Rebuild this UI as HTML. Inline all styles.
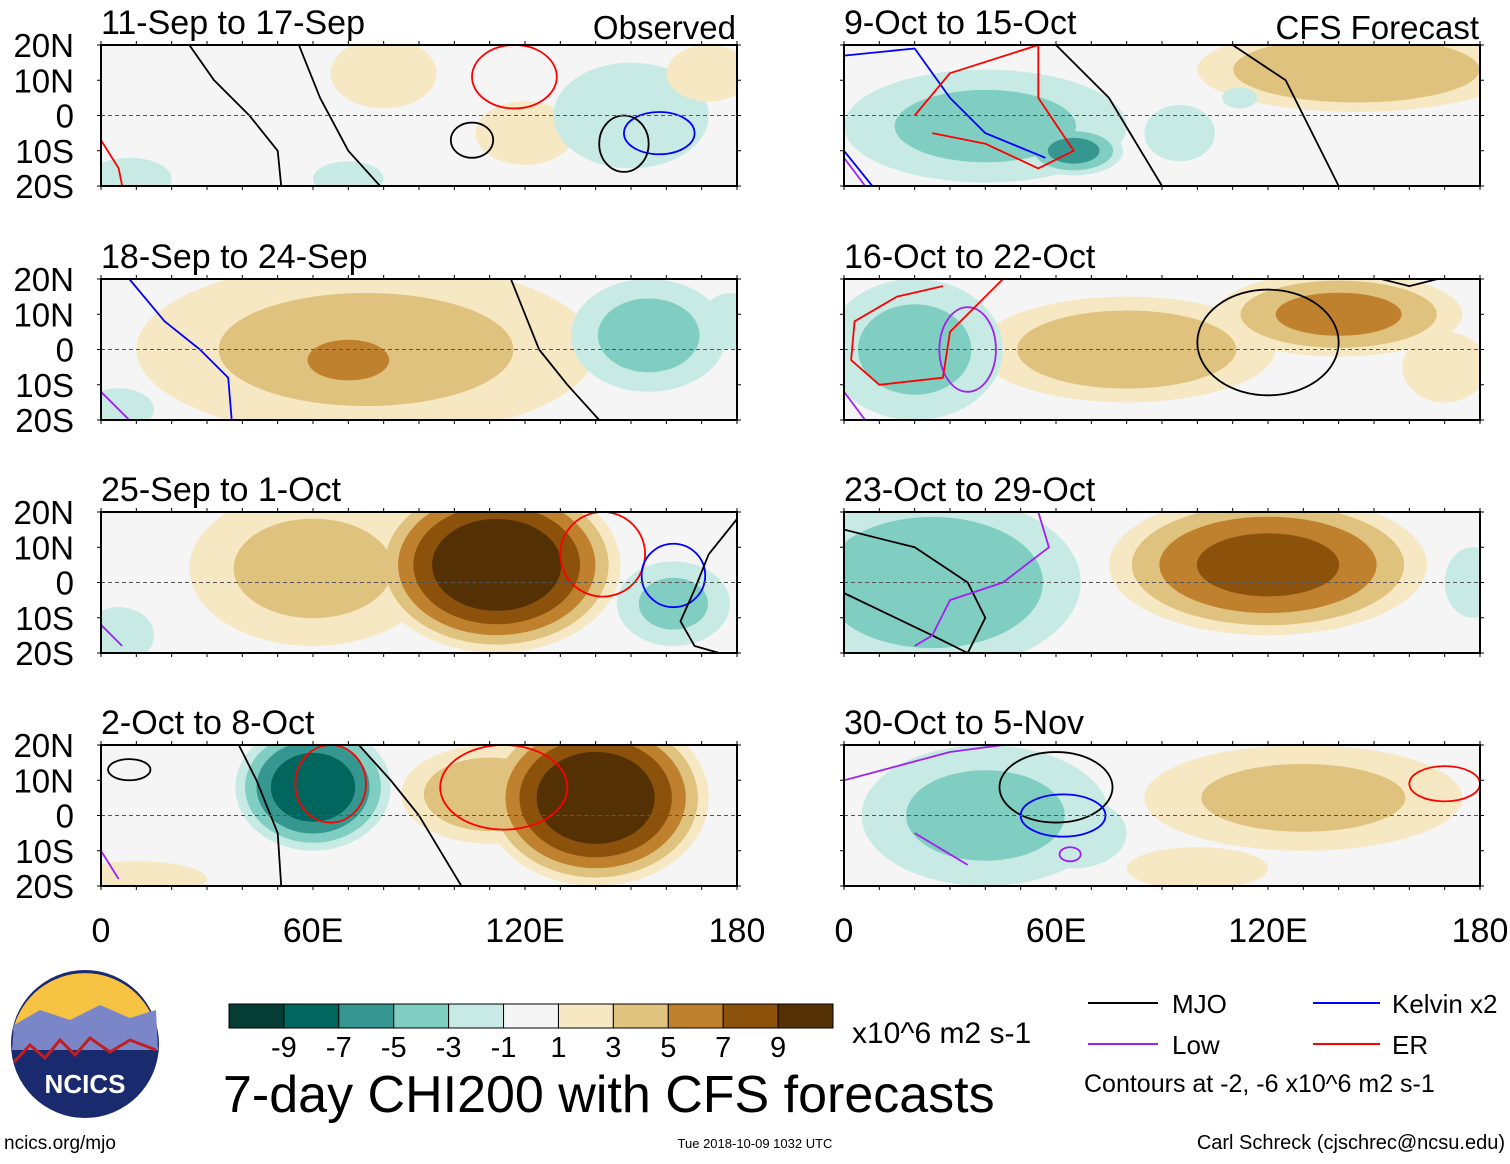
<!DOCTYPE html>
<html><head><meta charset="utf-8">
<style>
body{margin:0;background:#fff;width:1510px;height:1159px;overflow:hidden;font-family:"Liberation Sans",sans-serif;}
svg text{font-family:"Liberation Sans",sans-serif;}
</style></head>
<body>
<svg id="fig" width="1510" height="1159" viewBox="0 0 1510 1159" xmlns="http://www.w3.org/2000/svg">
<g id="panels"></g>
<g id="colorbar"></g>
<text x="223" y="1112" font-size="52">7-day CHI200 with CFS forecasts</text>
<text x="852" y="1043" font-size="30">x10^6 m2 s-1</text>
<g font-size="26">
<line x1="1088" y1="1003" x2="1158" y2="1003" stroke="#000" stroke-width="2"/><text x="1172" y="1013">MJO</text>
<line x1="1313" y1="1003" x2="1380" y2="1003" stroke="#0000ff" stroke-width="2"/><text x="1392" y="1013">Kelvin x2</text>
<line x1="1088" y1="1044" x2="1158" y2="1044" stroke="#a020f0" stroke-width="2"/><text x="1172" y="1054">Low</text>
<line x1="1313" y1="1044" x2="1380" y2="1044" stroke="#ff0000" stroke-width="2"/><text x="1392" y="1054">ER</text>
<text x="1084" y="1092" font-size="25">Contours at -2, -6 x10^6 m2 s-1</text>
</g>
<g>
<circle cx="85" cy="1044" r="74" fill="#1a2a6e"/>
<path d="M13 1030 A74 74 0 0 1 157 1030 Z" fill="#f6c342"/>
<path d="M14 1025 L40 1010 L70 1020 L100 1005 L130 1018 L156 1010 L158 1050 L12 1050 Z" fill="#7b86c9"/>
<path d="M14 1062 L30 1045 L45 1058 L60 1040 L75 1055 L90 1038 L110 1052 L130 1040 L156 1050" fill="none" stroke="#c02020" stroke-width="3"/>
<text x="85" y="1093" font-size="26" font-weight="bold" fill="#fff" text-anchor="middle">NCICS</text>
</g>
<text x="4" y="1149" font-size="19">ncics.org/mjo</text>
<text x="755" y="1148" font-size="13" text-anchor="middle">Tue 2018-10-09 1032 UTC</text>
<text x="1505" y="1149" font-size="20" text-anchor="end">Carl Schreck (cjschrec@ncsu.edu)</text>
</svg>
<script>
const NS="http://www.w3.org/2000/svg";
const panelTitles=["11-Sep to 17-Sep","18-Sep to 24-Sep","25-Sep to 1-Oct","2-Oct to 8-Oct","9-Oct to 15-Oct","16-Oct to 22-Oct","23-Oct to 29-Oct","30-Oct to 5-Nov"];
const latTicks=[20,10,0,-10,-20];
const latLabels=["20N","10N","0","10S","20S"];
const lonTicks=[0,60,120,180];
const lonLabels=["0","60E","120E","180"];
const cbLevels=[-11,-9,-7,-5,-3,-1,1,3,5,7,9,11];
const cbColors=["#053d35","#00665e","#35978f","#80cdc1","#c7eae5","#f5f5f5","#f6e8c3","#dfc27d","#bf812d","#8c510a","#543005"];
const cbTickLabels=[-9,-7,-5,-3,-1,1,3,5,7,9];
// blobs: [lon, lat, rxDeg, ryDeg, peakValue]
const blobs=[
 [[80,12,15,10,2.8],[120,-5,14,9,2.2],[150,0,22,15,-2.4],[8,-18,12,6,-2],[70,-18,10,5,-1.6],[172,12,12,8,1.6]],
 [[75,0,65,25,3.4],[70,-3,20,10,6],[155,4,22,16,-3.5],[178,8,8,8,-2.4],[5,-17,10,6,-1.5]],
 [[60,4,35,22,3.4],[112,5,35,25,11],[70,-8,8,8,-0.5],[162,-6,16,12,-3.2],[5,-15,10,8,-1.5]],
 [[60,8,22,18,-8.5],[140,5,32,25,11],[110,6,25,14,4.5],[10,-18,20,5,2]],
 [[145,13,45,12,5],[40,-3,40,16,-3.4],[65,-10,14,7,-5.5],[95,-5,10,8,-3],[112,5,5,3,-2.5]],
 [[80,0,42,15,4.4],[140,10,35,12,5.4],[20,0,25,20,-3.4],[170,-5,12,10,1.5]],
 [[120,5,45,20,7.5],[25,0,42,25,-4.5],[178,0,8,10,-2]],
 [[40,0,35,20,-3.4],[130,5,45,15,3.4],[65,-5,15,10,-2.5],[100,-15,20,6,1.8]]
];
// ellipse contours: [type, lon, lat, rxDeg, ryDeg]
const contours=[
 [["er",117,11,12,9],["mjo",105,-7,6,5],["kelvin",158,-5,10,6],["mjo",148,-8,7,8]],
 [],
 [["er",142,8,12,12],["kelvin",162,2,9,9]],
 [["er",65,9,10,11],["er",114,8,18,12],["mjo",8,13,6,3]],
 [],
 [["low",35,0,8,12],["mjo",120,2,20,15]],
 [],
 [["mjo",60,8,16,10],["kelvin",62,0,12,6],["er",170,9,10,5],["low",64,-11,3,2]]
];
// polyline contours: [type, [[lon,lat],...]]
const lines=[
 [["mjo",[[25,20],[32,10],[42,0],[50,-10],[51,-20]]],["mjo",[[56,20],[62,5],[70,-10],[79,-20]]],["er",[[0,-7],[5,-15],[6,-20]]]],
 [["kelvin",[[8,20],[18,8],[28,0],[36,-8],[37,-20]]],["mjo",[[116,20],[120,10],[124,0],[132,-10],[141,-20]]],["low",[[0,-12],[8,-20]]]],
 [["mjo",[[180,18],[172,8],[168,-2],[164,-11],[168,-18],[175,-20]]],["low",[[0,-12],[6,-18]]]],
 [["mjo",[[39,20],[44,10],[50,-5],[51,-20]]],["mjo",[[73,20],[82,10],[90,0],[96,-10],[102,-20]]],["low",[[0,-10],[5,-18]]]],
 [["kelvin",[[0,17],[20,19],[30,5],[40,-5],[57,-12]]],["kelvin",[[0,-10],[8,-20]]],["er",[[20,0],[30,12],[55,20],[55,5],[65,-10],[55,-15],[40,-8],[25,-5]]],["mjo",[[60,20],[75,5],[90,-20]]],["mjo",[[110,20],[125,10],[140,-20]]],["low",[[0,-12],[6,-20]]]],
 [["er",[[45,20],[30,5],[28,-8],[10,-10],[2,-3],[3,8],[15,15],[28,18]]],["low",[[0,-12],[6,-20]]],["mjo",[[152,20],[160,18],[168,20]]]],
 [["mjo",[[0,15],[20,10],[35,0],[40,-10],[35,-20]]],["mjo",[[0,-3],[25,-15],[35,-20]]],["low",[[25,20],[55,20],[58,10],[45,0],[30,-5],[25,-15],[20,-18]]]],
 [["low",[[0,10],[30,18],[45,20]]],["low",[[20,-5],[35,-14]]]]
];
const contourColors={mjo:"#000",kelvin:"#0000ff",er:"#ff0000",low:"#a020f0"};
function el(t,a,p){const e=document.createElementNS(NS,t);for(const k in a)e.setAttribute(k,a[k]);p.appendChild(e);return e;}
function colorFor(v){for(let i=0;i<cbColors.length;i++){if(v<cbLevels[i+1])return cbColors[i];}return cbColors[cbColors.length-1];}
const PW=636,PH=141;
const panelsG=document.getElementById("panels");
for(let p=0;p<8;p++){
 const x0=p<4?101:844, y0=[45,279,512,745][p%4];
 const xs=lon=>x0+lon/180*PW, ys=lat=>y0+(20-lat)/40*PH;
 const g=el("g",{},panelsG);
 
 
 const cid="clip"+p;
 const cp=el("clipPath",{id:cid},g);el("rect",{x:x0,y:y0,width:PW,height:PH},cp);
 el("rect",{x:x0,y:y0,width:PW,height:PH,fill:"#f5f5f5"},g);
 const fg=el("g",{"clip-path":"url(#"+cid+")"},g);
 for(let lev=1;lev<12;lev+=2){
  blobs[p].forEach(b=>{
   const [lon,lat,rx,ry,v]=b, sgn=Math.sign(v), av=Math.abs(v);
   if(lev>=av) return;
   const s=Math.sqrt(1-(lev-1)/av);
   const e=el("ellipse",{cx:xs(lon),cy:ys(lat),rx:rx*s*PW/180,ry:ry*s*PH/40,fill:colorFor(sgn*(lev+0.5))},fg);
   
   
  });
 }
 contours[p].forEach(c=>{
  const e=el("ellipse",{cx:xs(c[1]),cy:ys(c[2]),rx:c[3]*PW/180,ry:c[4]*PH/40,fill:"none",stroke:contourColors[c[0]],"stroke-width":1.8},fg);
  
  
 });
 lines[p].forEach(c=>{
  const pts=c[1].map(q=>xs(q[0]).toFixed(1)+","+ys(q[1]).toFixed(1)).join(" ");
  const e=el("polyline",{points:pts,fill:"none",stroke:contourColors[c[0]],"stroke-width":1.8,"stroke-linejoin":"round"},fg);
  
  
 });
 el("line",{x1:x0,y1:ys(0),x2:x0+PW,y2:ys(0),stroke:"#555","stroke-dasharray":"4,3","stroke-width":1},g);
 const fr=el("rect",{x:x0,y:y0,width:PW,height:PH,fill:"none",stroke:"#000","stroke-width":2},g);
 
 
 for(let l=0;l<=180;l+=10){
  el("line",{x1:xs(l),y1:y0,x2:xs(l),y2:y0-4,stroke:"#000"},g);
  el("line",{x1:xs(l),y1:y0+PH,x2:xs(l),y2:y0+PH+4,stroke:"#000"},g);
 }
 latTicks.forEach(t=>{el("line",{x1:x0,y1:ys(t),x2:x0-4,y2:ys(t),stroke:"#000"},g);el("line",{x1:x0+PW,y1:ys(t),x2:x0+PW+4,y2:ys(t),stroke:"#000"},g);});
 const tt=el("text",{x:x0,y:y0-11,"font-size":34},g);tt.textContent=panelTitles[p];
 
 
 if(p===0||p===4){const st=el("text",{x:x0+PW-1,y:y0-6,"font-size":33,"text-anchor":"end"},g);st.textContent=p===0?"Observed":"CFS Forecast";
  
  }
 if(p<4){latTicks.forEach((t,i)=>{const lt=el("text",{x:74,y:ys(t)+12,"font-size":33,"text-anchor":"end"},g);lt.textContent=latLabels[i];
  
  });}
 if(p%4===3){lonTicks.forEach((t,i)=>{const lt=el("text",{x:xs(t),y:942,"font-size":34,"text-anchor":"middle"},g);lt.textContent=lonLabels[i];
  
  });}
}
const cb=document.getElementById("colorbar");
const cbx=229,cbw=604/cbColors.length;
cbColors.forEach((c,i)=>{const r=el("rect",{x:cbx+i*cbw,y:1004,width:cbw,height:24,fill:c,stroke:"#000","stroke-width":1},cb);
 
 });
cbTickLabels.forEach((t,i)=>{const tx=el("text",{x:cbx+(i+1)*cbw,y:1057,"font-size":29,"text-anchor":"middle"},cb);tx.textContent=t;
 
 });
</script>
</body></html>
